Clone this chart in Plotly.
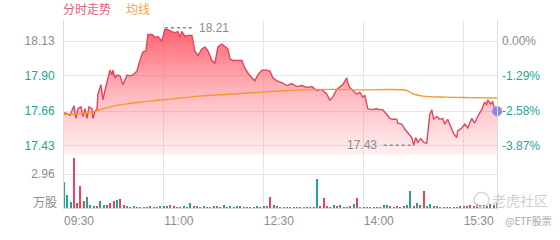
import plotly.graph_objects as go

# ---------------- data ----------------
prev_close = 18.13

# minutes since 09:30 (clock time) and price
price_t = [0, 2.7, 5.4, 9, 10.8, 12.6, 15.3, 17.1, 18.9, 20.7, 22.5, 25.2, 26.1, 27.9, 29.7,
           30.6, 33.3, 35.1, 36.9, 39.6, 41.4, 43.2, 44.1, 45.9, 47.7, 50.4, 53.1, 56.7, 59.4,
           62.1, 65.7, 68.4, 71.1, 73.8, 75.6, 79.2, 81.9, 84.6, 88.2, 90.9, 93.6, 97.2, 99.9,
           102.6, 104.4, 106.2, 108.9, 111.6, 115.2, 117.9, 120.6, 124.2, 126.9, 129.6, 133.2,
           135.9, 138.6, 142.2, 144.9, 147.6, 149.4, 152.1, 155.7, 160.2, 162.9, 165.6, 169.2,
           171.9, 174.6, 178.2, 182.7, 185.4, 188.1, 191.7, 196.2, 200.7, 205.2, 209.7, 214.2,
           218.7, 223.2, 227.7, 232.2, 236.7, 239.4, 242.1, 245.7, 248.4, 251.1, 254.7, 255.6,
           257.4, 260.1, 263.7, 266.4, 269.1, 270.9, 273.6, 277.2, 281.7, 284.4, 287.1, 290.7,
           293.4, 296.1, 299.7, 300.6, 304.2, 306.9, 309.6, 313.2, 315, 316.8, 318.6, 321.3,
           324, 326.7, 329.4, 331.2, 333, 335.7, 338.4, 341.1, 342.9, 345.6, 349.2, 351, 353.7,
           354.6, 358.2, 360.9, 363.6, 367.2, 369.9, 372.6, 376.2, 378.9, 380.7, 381.6, 384.3,
           386.1, 387.9, 390]
price = [17.650, 17.644, 17.631, 17.696, 17.611, 17.676, 17.689, 17.624, 17.676, 17.611, 17.689,
         17.676, 17.611, 17.657, 17.676, 17.774, 17.838, 17.735, 17.799, 17.884, 17.936, 17.903,
         17.936, 17.884, 17.903, 17.897, 17.838, 17.903, 17.897, 17.903, 17.929, 18.000, 18.059,
         18.065, 18.175, 18.175, 18.156, 18.162, 18.130, 18.210, 18.208, 18.195, 18.188, 18.195,
         18.156, 18.195, 18.162, 18.169, 18.169, 18.065, 18.033, 18.078, 18.091, 18.065, 18.000,
         17.981, 18.091, 18.111, 18.091, 18.078, 18.013, 18.000, 18.000, 18.000, 17.949, 17.916,
         17.884, 17.864, 17.903, 17.936, 17.936, 17.929, 17.884, 17.864, 17.851, 17.832, 17.845,
         17.825, 17.832, 17.819, 17.825, 17.799, 17.806, 17.774, 17.735, 17.754, 17.806, 17.819,
         17.838, 17.884, 17.851, 17.819, 17.799, 17.774, 17.787, 17.754, 17.767, 17.676, 17.670,
         17.676, 17.670, 17.670, 17.637, 17.611, 17.605, 17.605, 17.579, 17.573, 17.540, 17.514,
         17.482, 17.430, 17.482, 17.450, 17.475, 17.450, 17.443, 17.637, 17.670, 17.605, 17.624,
         17.605, 17.611, 17.573, 17.605, 17.540, 17.508, 17.482, 17.527, 17.547, 17.573, 17.547,
         17.611, 17.579, 17.624, 17.670, 17.722, 17.702, 17.735, 17.709, 17.722, 17.676, 17.660]

avg_t = [0, 14.4, 26.1, 41.4, 56.7, 71.1, 95.4, 122.4, 149.4, 176.4, 203.4, 239.4, 269.1,
         308.7, 313.2, 323.1, 344.7, 365.4, 390]
avg_price = [17.637, 17.644, 17.657, 17.689, 17.709, 17.722, 17.741, 17.761, 17.774, 17.787,
             17.799, 17.806, 17.803, 17.799, 17.780, 17.761, 17.754, 17.751, 17.748]

# volume (10k shares), one bar every 3 minutes
vol = [2.3, 1.1, 0.5, 4.4, 0.4, 1.95, 0.6, 1.0, 0.3, 0.2, 0.15, 0.6, 0.3, 0.25, 0.45, 0.6,
       0.7, 0.75, 0.3, 0.15, 0.1, 0.15, 0.1, 0.12, 0.1, 0.1, 0.2, 0.12, 0.1, 0.15, 0.2, 0.15,
       0.25, 0.15, 0.12, 0.1, 0.2, 0.1, 0.4, 0.2, 0.15, 0.1, 0.15, 0.12, 0.1, 0.15, 0.2, 0.1,
       0.25, 0.1, 0.15, 0.1, 0.2, 0.15, 0.12, 0.1, 0.08, 0.1, 0.15, 0.08, 0.2, 0.15, 1.0, 0.25,
       0.15, 0.1, 0.1, 0.08, 0.05, 0.05, 0.08, 0.05, 0.05, 0.05, 0.08, 0.1, 2.55, 0.2, 0.85,
       0.15, 0.1, 0.3, 0.15, 0.25, 0.1, 0.1, 0.2, 0.35, 0.85, 0.1, 0.05, 0.08, 0.05, 0.1, 0.05,
       0.1, 0.25, 0.3, 0.15, 0.1, 0.2, 0.1, 0.15, 0.3, 1.45, 0.2, 0.4, 0.3, 1.45, 0.2, 0.35,
       0.2, 0.15, 0.1, 0.12, 0.1, 0.1, 0.08, 0.1, 0.15, 0.2, 0.15, 0.3, 0.2, 0.35, 0.25, 0.3,
       0.2, 0.35, 0.3, 0.45]
vol_dir = ['g', 'g', 'g', 'r', 'r', 'r', 'r', 'g', 'g', 'g', 'r', 'g', 'g', 'r', 'r', 'r',
           'g', 'r', 'r', 'g', 'r', 'g', 'r', 'g', 'r', 'g', 'r', 'g', 'r', 'g', 'g', 'r',
           'g', 'r', 'g', 'r', 'g', 'r', 'g', 'r', 'g', 'r', 'g', 'r', 'g', 'r', 'g', 'r',
           'g', 'r', 'g', 'r', 'g', 'r', 'g', 'r', 'g', 'r', 'g', 'r', 'r', 'g', 'r', 'r',
           'g', 'r', 'g', 'r', 'g', 'r', 'g', 'r', 'g', 'r', 'g', 'g', 'g', 'r', 'r', 'r',
           'g', 'g', 'r', 'g', 'r', 'g', 'r', 'g', 'r', 'g', 'r', 'g', 'r', 'g', 'r', 'g',
           'g', 'g', 'r', 'g', 'r', 'g', 'r', 'g', 'g', 'r', 'g', 'r', 'r', 'g', 'g', 'r',
           'g', 'r', 'g', 'r', 'g', 'r', 'g', 'r', 'g', 'r', 'r', 'g', 'r', 'g', 'g', 'r',
           'g', 'r', 'g']
vol_t = [3 * i for i in range(len(vol))]

x_tick_vals = [0, 90, 180, 270, 360]
x_tick_text = ['09:30', '11:00', '12:30', '14:00', '15:30']
price_ticks = [18.13, 17.90, 17.66, 17.43]
pct_ticks = ['0.00%', '-1.29%', '-2.58%', '-3.87%']
vol_ticks = [2.96]

# ---------------- style ----------------
RED = '#e8435c'
ORANGE = '#f39a2e'
TEAL = '#22a596'
GRAY = '#8c8c8c'
GRID = '#e6e6e6'
FONT = 'Liberation Sans, Arial, Noto Sans CJK SC, sans-serif'
CJK = 'Noto Sans CJK SC, Liberation Sans, sans-serif'

price_lo, price_hi = 17.3653, 18.2726
vol_hi = 4.65

fig = go.Figure()

fig.add_trace(go.Scatter(
    x=price_t, y=price, mode='lines', line=dict(color=RED, width=1.4),
    fill='tozeroy',
    fillgradient=dict(type='vertical', start=price_lo, stop=max(price),
                      colorscale=[[0, 'rgba(255,90,105,0.06)'], [0.5, 'rgba(255,90,105,0.42)'],
                                  [1, 'rgba(255,85,100,0.9)']]),
    xaxis='x', yaxis='y', hoverinfo='skip', showlegend=False))

fig.add_trace(go.Scatter(
    x=avg_t, y=avg_price, mode='lines', line=dict(color=ORANGE, width=1.4, shape='spline'),
    xaxis='x', yaxis='y', hoverinfo='skip', showlegend=False))

fig.add_trace(go.Bar(
    x=vol_t, y=vol, width=1.2,
    marker=dict(color=[RED if d == 'r' else TEAL for d in vol_dir], line=dict(width=0)),
    xaxis='x', yaxis='y2', hoverinfo='skip', showlegend=False))

# end-point marker (on the right percentage axis, same range)
fig.add_trace(go.Scatter(
    x=[price_t[-1]], y=[price[-1]], mode='markers',
    marker=dict(color='#8f84d8', size=10, line=dict(color='#b9b0ee', width=1)),
    xaxis='x', yaxis='y3', hoverinfo='skip', showlegend=False, cliponaxis=False))

def colored(texts, first_color, rest_color):
    out = []
    for i, t in enumerate(texts):
        c = first_color if i == 0 else rest_color
        out.append(f"<span style='color:{c}'>{t}</span>")
    return out

fig.update_layout(
    width=560, height=240,
    margin=dict(l=64, r=63, t=20, b=25),
    paper_bgcolor='white', plot_bgcolor='white',
    font=dict(family=FONT, size=12, color=GRAY),
    bargap=0,
    xaxis=dict(range=[0, 390], tickvals=x_tick_vals, ticktext=x_tick_text,
               showgrid=True, gridcolor=GRID, gridwidth=1, zeroline=False,
               showline=True, linecolor='#dcdcdc', anchor='y2', ticks='',
               ticklabelshift=15, ticklabelstandoff=2,
               tickfont=dict(size=12, color=GRAY, family=FONT)),
    yaxis=dict(domain=[0.282, 1], range=[price_lo, price_hi], tickvals=price_ticks,
               ticktext=colored([f'{v:.2f}' for v in price_ticks], GRAY, TEAL),
               showgrid=True, gridcolor=GRID, zeroline=False, showline=True, mirror=True,
               linecolor='#dcdcdc', ticks='', ticklabelstandoff=6,
               tickfont=dict(size=12, family=FONT)),
    yaxis3=dict(overlaying='y', side='right', range=[price_lo, price_hi], tickvals=price_ticks,
                ticktext=colored(pct_ticks, GRAY, TEAL), showgrid=False, zeroline=False,
                ticks='', ticklabelstandoff=4, anchor='x',
                tickfont=dict(size=12, family=FONT)),
    yaxis2=dict(domain=[0, 0.282], range=[0, vol_hi], tickvals=vol_ticks,
                ticktext=[f'{v:.2f}' for v in vol_ticks],
                showgrid=True, gridcolor=GRID, zeroline=False, showline=True, mirror=True,
                linecolor='#dcdcdc', ticks='', ticklabelstandoff=6,
                tickfont=dict(size=12, color=GRAY, family=FONT)),
)

# max / min markers
i_max = price.index(max(price))
i_min = price.index(min(price))
t_max, p_max = price_t[i_max], price[i_max]
t_min, p_min = price_t[i_min], price[i_min]
fig.add_shape(type='line', xref='x', yref='y', x0=t_max, x1=t_max + 25, y0=p_max + 0.01,
              y1=p_max + 0.01, line=dict(color='#8a8a8a', width=1.5, dash='3px,3px'))
fig.add_annotation(xref='x', yref='y', x=t_max + 29, y=p_max + 0.01, text=f'{p_max:.2f}',
                   showarrow=False, xanchor='left', yanchor='middle',
                   font=dict(size=12, color=GRAY, family=FONT))
fig.add_shape(type='line', xref='x', yref='y', x0=t_min - 27, x1=t_min, y0=p_min, y1=p_min,
              line=dict(color='#8a8a8a', width=1.5, dash='3px,3px'))
fig.add_annotation(xref='x', yref='y', x=t_min - 31, y=p_min, text=f'{p_min:.2f}',
                   showarrow=False, xanchor='right', yanchor='middle',
                   font=dict(size=12, color=GRAY, family=FONT))

# legend-like titles
fig.add_annotation(xref='paper', yref='paper', x=0, y=1, yanchor='bottom', xanchor='left',
                   yshift=1, xshift=-3, text='分时走势', showarrow=False,
                   font=dict(size=12, color='#e2607a', family=CJK))
fig.add_annotation(xref='paper', yref='paper', x=0.1386, y=1, yanchor='bottom', xanchor='left',
                   yshift=1, text='均线', showarrow=False,
                   font=dict(size=12, color='#f2a23a', family=CJK))

# volume unit label
fig.add_annotation(xref='paper', yref='y2', x=0, y=0, xanchor='right', yanchor='bottom',
                   xshift=-5, yshift=-4, text='万股', showarrow=False,
                   font=dict(size=12, color=GRAY, family=CJK))

# watermark
fig.add_shape(type='circle', xref='paper', yref='paper',
              x0=(474 - 64) / 433, x1=(489 - 64) / 433, y0=(215 - 214) / 195, y1=(215 - 199) / 195,
              line=dict(color='#d6d6d6', width=1.5))
fig.add_annotation(xref='paper', yref='paper', x=(491 - 64) / 433, y=(215 - 207) / 195,
                   xanchor='left', yanchor='middle', text='老虎社区', showarrow=False,
                   borderpad=0, font=dict(size=14, color='#cfcfcf', family=CJK))
fig.add_annotation(xref='paper', yref='paper', x=(504 - 64) / 433, y=(215 - 228) / 195,
                   xanchor='left', yanchor='middle', text='@ETF股票', showarrow=False,
                   borderpad=0, font=dict(size=10, color='#a8a8a8', family=CJK))

fig.write_html('out.html')
